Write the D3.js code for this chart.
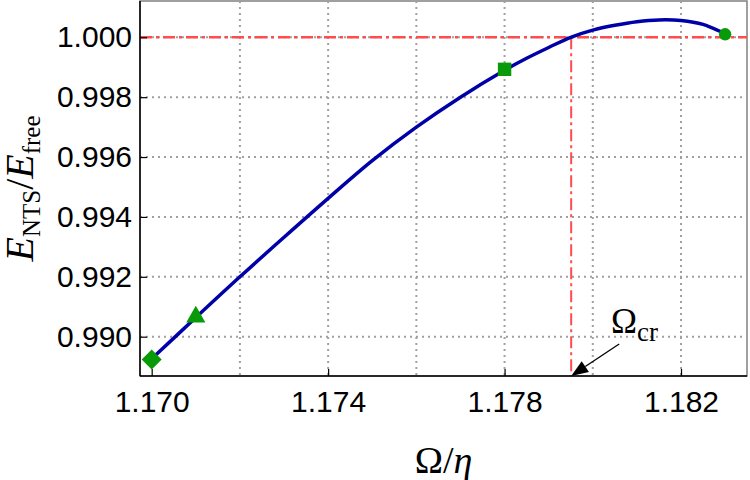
<!DOCTYPE html>
<html>
<head>
<meta charset="utf-8">
<script src="https://cdn.jsdelivr.net/npm/d3@7"></script>
<style>
  body { margin: 0; background: #fff; }
  .tick text { font-family: "Liberation Sans", Arial, sans-serif; font-size: 30px; fill: #000; }
  .serif { font-family: "Liberation Serif", "Times New Roman", serif; fill: #000; }
</style>
</head>
<body>
<div id="chart"></div>
<script>
// Curve samples
var curveX = [1.170, 1.171, 1.172, 1.173, 1.174, 1.175, 1.176, 1.177, 1.178, 1.1785, 1.179, 1.1795, 1.180, 1.1805, 1.181, 1.1815, 1.182, 1.1825, 1.183];
var curveY = [0.98926, 0.99064, 0.99200, 0.99332, 0.99462, 0.99588, 0.99700, 0.99800, 0.99890, 0.99930, 0.99966, 1.00000, 1.00024, 1.00040, 1.00052, 1.00058, 1.00056, 1.00043, 1.00012];

// Marked points (diamond, triangle, square, circle)
var markerX = [1.170, 1.171, 1.178, 1.183];
var markerY = [0.98924, 0.99066, 0.99893, 1.00010];
var markerShapes = ['diamond', 'triangle', 'square', 'circle'];

// Critical frequency and reference level
var omegaCr = 1.17951;
var refLevel = 1.000;

// Ticks
var xTickLabels = [1.170, 1.174, 1.178, 1.182];
var xGrid = [1.172, 1.174, 1.176, 1.178, 1.180, 1.182];
var yTickLabels = [0.990, 0.992, 0.994, 0.996, 0.998, 1.000];

var width = 750;
var height = 480;
var plotL = 140, plotR = 747, plotT = 1, plotB = 376;

var svg = d3.select('#chart').append('svg')
    .attr('width', width)
    .attr('height', height);

var x = d3.scaleLinear().domain([1.169735, 1.183496]).range([plotL, plotR]);
var y = d3.scaleLinear().domain([0.988687, 1.001212]).range([plotB, plotT]);

// Frame (top/right in gray)
svg.append('rect')
    .attr('x', plotL).attr('y', plotT)
    .attr('width', plotR - plotL).attr('height', plotB - plotT)
    .style('fill', 'none')
    .style('stroke', '#808080')
    .attr('stroke-width', 1.5);

// Grid lines
svg.selectAll('.vgrid')
    .data(xGrid)
    .enter().append('line')
    .attr('class', 'vgrid')
    .attr('x1', function (d) { return x(d); })
    .attr('x2', function (d) { return x(d); })
    .attr('y1', plotT).attr('y2', plotB)
    .style('stroke', '#a0a0a0')
    .attr('stroke-width', 2)
    .attr('stroke-dasharray', '2,4');

svg.selectAll('.hgrid')
    .data(yTickLabels)
    .enter().append('line')
    .attr('class', 'hgrid')
    .attr('x1', plotL).attr('x2', plotR)
    .attr('y1', function (d) { return y(d); })
    .attr('y2', function (d) { return y(d); })
    .style('stroke', '#a0a0a0')
    .attr('stroke-width', 2)
    .attr('stroke-dasharray', '2,4');

// Red dash-dot reference lines
svg.append('line')
    .attr('x1', plotL).attr('x2', plotR)
    .attr('y1', y(refLevel)).attr('y2', y(refLevel))
    .style('stroke', '#ff4d4d')
    .attr('stroke-width', 2.5)
    .attr('stroke-dasharray', '12,4,3,4');

svg.append('line')
    .attr('x1', x(omegaCr)).attr('x2', x(omegaCr))
    .attr('y1', y(refLevel)).attr('y2', plotB)
    .style('stroke', '#ff4d4d')
    .attr('stroke-width', 2)
    .attr('stroke-dasharray', '12,4,3,4');

// Axes
var xAxis = d3.axisBottom(x)
    .tickValues(xTickLabels)
    .tickFormat(d3.format('.3f'))
    .tickSizeInner(-7)
    .tickSizeOuter(0)
    .tickPadding(15);

var yAxis = d3.axisLeft(y)
    .tickValues(yTickLabels)
    .tickFormat(d3.format('.3f'))
    .tickSizeInner(-7)
    .tickSizeOuter(0)
    .tickPadding(8);

svg.append('g')
    .attr('transform', 'translate(0,' + plotB + ')')
    .call(xAxis)
    .call(function (g) {
        g.select('.domain').attr('d', 'M' + plotL + ',0H' + plotR).style('stroke', '#000').attr('stroke-width', 1.5);
        g.selectAll('.tick line').style('stroke', '#000').attr('stroke-width', 1.2);
    });

svg.append('g')
    .attr('transform', 'translate(' + plotL + ',0)')
    .call(yAxis)
    .call(function (g) {
        g.select('.domain').attr('d', 'M0,' + plotT + 'V' + plotB).style('stroke', '#000').attr('stroke-width', 1.5);
        g.selectAll('.tick line').style('stroke', '#000').attr('stroke-width', 1.2);
    });

// Energy ratio curve
var pts = curveX.map(function (d, i) { return [d, curveY[i]]; });
var line = d3.line()
    .x(function (d) { return x(d[0]); })
    .y(function (d) { return y(d[1]); })
    .curve(d3.curveCatmullRom);

svg.append('path')
    .datum(pts)
    .attr('d', line)
    .style('fill', 'none')
    .style('stroke', '#0000a8')
    .attr('stroke-width', 3.5);

// Markers (diamond = square turned 45 degrees)
var symbolMap = {
    diamond: d3.symbolSquare,
    triangle: d3.symbolTriangle,
    square: d3.symbolSquare,
    circle: d3.symbolCircle
};
var symbolSize = { diamond: 200, triangle: 160, square: 180, circle: 120 };

svg.selectAll('.marker')
    .data(markerX)
    .enter().append('path')
    .attr('class', 'marker')
    .attr('transform', function (d, i) {
        var t = 'translate(' + x(d) + ',' + y(markerY[i]) + ')';
        return markerShapes[i] === 'diamond' ? t + ' rotate(45)' : t;
    })
    .attr('d', function (d, i) {
        var s = markerShapes[i];
        return d3.symbol().type(symbolMap[s]).size(symbolSize[s])();
    })
    .style('fill', '#089a08');

// Axis titles
var ylab = svg.append('text')
    .attr('class', 'serif')
    .attr('transform', 'translate(33,' + ((plotT + plotB) / 2) + ') rotate(-90)')
    .attr('text-anchor', 'middle')
    .style('font-size', '40px');
ylab.append('tspan').style('font-style', 'italic').text('E');
ylab.append('tspan').attr('dy', 7).style('font-size', '25px').text('NTS');
ylab.append('tspan').attr('dy', -7).text('/');
ylab.append('tspan').style('font-style', 'italic').text('E');
ylab.append('tspan').attr('dy', 7).style('font-size', '25px').text('free');

var xlab = svg.append('text')
    .attr('class', 'serif')
    .attr('x', (plotL + plotR) / 2)
    .attr('y', 473)
    .attr('text-anchor', 'middle')
    .style('font-size', '38px');
xlab.append('tspan').text('Ω/');
xlab.append('tspan').style('font-style', 'italic').text('η');

// Omega_cr annotation with arrow
var tipX = x(omegaCr), tipY = plotB;
var tailX = tipX + 48, tailY = tipY - 32;
var ang = Math.atan2(tipY - tailY, tipX - tailX);
var headLen = 17, headW = 6.5;
var bx = tipX - headLen * Math.cos(ang), by = tipY - headLen * Math.sin(ang);

svg.append('line')
    .attr('x1', tailX).attr('y1', tailY)
    .attr('x2', bx).attr('y2', by)
    .style('stroke', '#000')
    .attr('stroke-width', 1.3);

svg.append('path')
    .attr('d', 'M' + tipX + ',' + tipY +
        'L' + (bx + headW * Math.sin(ang)) + ',' + (by - headW * Math.cos(ang)) +
        'L' + (bx - headW * Math.sin(ang)) + ',' + (by + headW * Math.cos(ang)) + 'Z')
    .style('fill', '#000');

var ann = svg.append('text')
    .attr('class', 'serif')
    .attr('x', 611)
    .attr('y', 333)
    .style('font-size', '35px');
ann.append('tspan').text('Ω');
ann.append('tspan').attr('dy', 8).style('font-size', '27px').text('cr');
</script>
</body>
</html>
